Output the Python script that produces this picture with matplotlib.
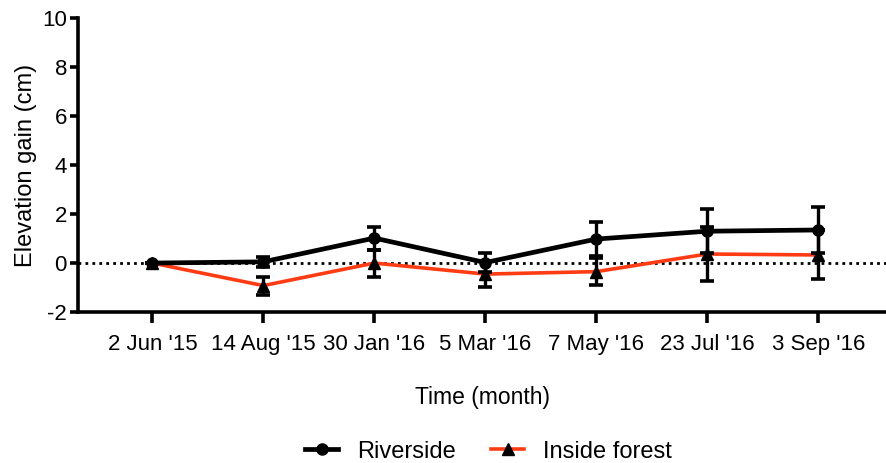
import matplotlib.pyplot as plt
from matplotlib.lines import Line2D

plt.rcParams['font.family'] = ['Liberation Sans', 'DejaVu Sans']
plt.rcParams['axes.unicode_minus'] = False

dates = ["2 Jun '15", "14 Aug '15", "30 Jan '16", "5 Mar '16",
         "7 May '16", "23 Jul '16", "3 Sep '16"]
riverside = [0.0, 0.05, 1.02, 0.02, 0.98, 1.30, 1.35]
riverside_err = [0.0, 0.2, 0.47, 0.4, 0.7, 0.9, 0.95]
forest = [0.0, -0.92, 0.0, -0.45, -0.35, 0.37, 0.33]
forest_err = [0.0, 0.37, 0.55, 0.52, 0.55, 1.1, 1.0]

x = list(range(len(dates)))
red = '#ff3b14'

fig = plt.figure(figsize=(8.87, 4.63), dpi=100)
ax = fig.add_axes([0.088, 0.326, 0.912, 0.635])

# zero reference line
ax.axhline(0, color='black', linestyle=(0, (1, 1.5)), linewidth=2, zorder=1)

ax.errorbar(x, forest, yerr=forest_err, color=red, linewidth=2.6,
            marker='^', markersize=8, mfc='black', mec='black',
            ecolor='black', elinewidth=2.4, capsize=5, capthick=2.6,
            zorder=2)
ax.errorbar(x, riverside, yerr=riverside_err, color='black', linewidth=3.4,
            marker='o', markersize=8, ecolor='black', elinewidth=2.4,
            capsize=5, capthick=2.6, zorder=3)

ax.set_xlim(-0.67, 6.62)
ax.set_ylim(-2, 10)
ax.set_yticks(range(-2, 11, 2))
ax.set_xticks(x)
ax.set_xticklabels(dates)

for side in ['top', 'right']:
    ax.spines[side].set_visible(False)
for side in ['left', 'bottom']:
    ax.spines[side].set_linewidth(2.6)
ax.tick_params(axis='both', width=2.6, length=6, labelsize=16, pad=2)
ax.tick_params(axis='x', length=8, pad=8)

ax.set_ylabel('Elevation gain (cm)', fontsize=17, labelpad=4)
ax.set_xlabel('Time (month)', fontsize=16.5, labelpad=22)

handles = [
    Line2D([], [], color='black', linewidth=3.4, marker='o', markersize=8),
    Line2D([], [], color=red, linewidth=2.6, marker='^', markersize=8,
           mfc='black', mec='black'),
]
fig.legend(handles, ['Riverside', 'Inside forest'], loc='lower center',
           ncol=2, frameon=False, fontsize=17, bbox_to_anchor=(0.551, -0.045),
           handlelength=1.4, handletextpad=0.8, columnspacing=1.5)

plt.savefig('out.png', dpi=100)
